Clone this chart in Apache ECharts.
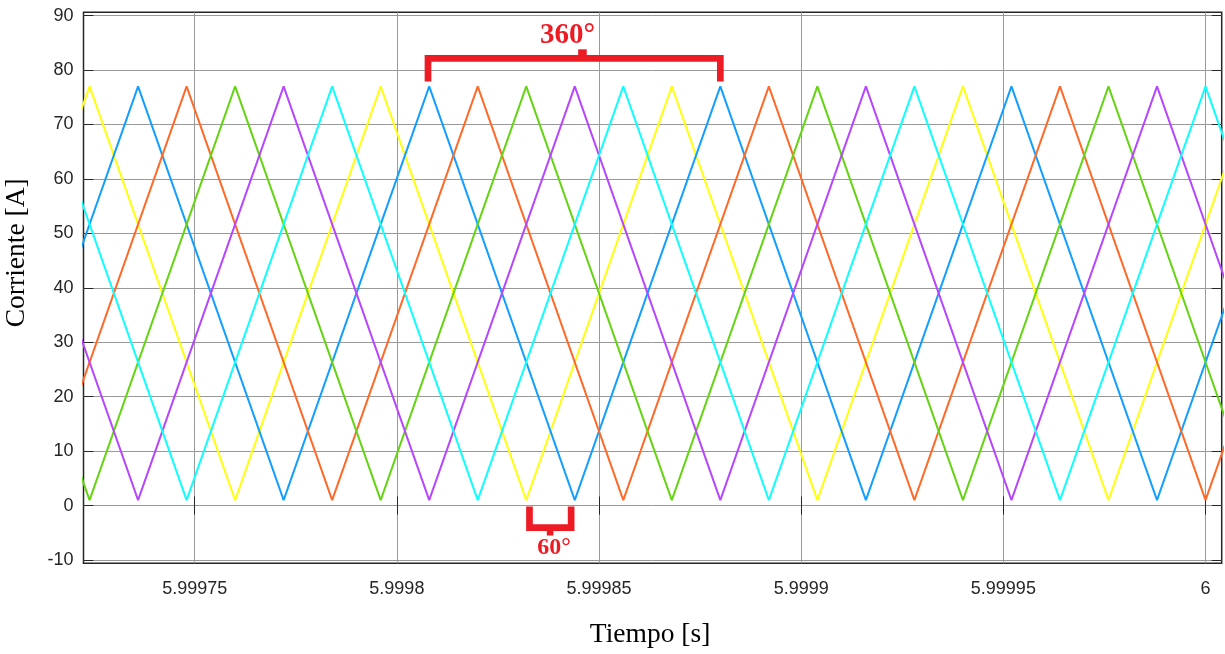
<!DOCTYPE html>
<html><head><meta charset="utf-8">
<script src="https://cdn.jsdelivr.net/npm/echarts@6/dist/echarts.min.js"></script>
<style>html,body{margin:0;padding:0;background:#fff}#c{width:1225px;height:654px}</style>
</head><body><div id="c"></div>
<script>
// Axis ticks
const xTicks = [5.99975, 5.9998, 5.99985, 5.9999, 5.99995, 6];
const xTickLabels = ['5.99975', '5.9998', '5.99985', '5.9999', '5.99995', '6'];
const yTicks = [-10, 0, 10, 20, 30, 40, 50, 60, 70, 80, 90];

// Six phase currents: vertices [time (s), current (A)]
const iYellow = [[5.999688,1],[5.999724,77],[5.999760,1],[5.999796,77],[5.999832,1],[5.999868,77],[5.999904,1],[5.999940,77],[5.999976,1],[6.000012,77]];
const iBlue   = [[5.999700,1],[5.999736,77],[5.999772,1],[5.999808,77],[5.999844,1],[5.999880,77],[5.999916,1],[5.999952,77],[5.999988,1],[6.000024,77]];
const iOrange = [[5.999712,1],[5.999748,77],[5.999784,1],[5.999820,77],[5.999856,1],[5.999892,77],[5.999928,1],[5.999964,77],[6.000000,1],[6.000036,77]];
const iGreen  = [[5.999688,77],[5.999724,1],[5.999760,77],[5.999796,1],[5.999832,77],[5.999868,1],[5.999904,77],[5.999940,1],[5.999976,77],[6.000012,1]];
const iPurple = [[5.999700,77],[5.999736,1],[5.999772,77],[5.999808,1],[5.999844,77],[5.999880,1],[5.999916,77],[5.999952,1],[5.999988,77],[6.000024,1]];
const iCyan   = [[5.999712,77],[5.999748,1],[5.999784,77],[5.999820,1],[5.999856,77],[5.999892,1],[5.999928,77],[5.999964,1],[6.000000,77],[6.000036,1]];

const seriesNames = ['Fase 1', 'Fase 2', 'Fase 3', 'Fase 4', 'Fase 5', 'Fase 6'];
const seriesData = [iYellow, iBlue, iOrange, iGreen, iPurple, iCyan];
const seriesColors = ['#FFFF11', '#139FFF', '#FF6929', '#64D413', '#B746FF', '#0FFFFF'];

// Annotation brackets (data coordinates)
const bracket360 = [[5.9998077,77.9],[5.9998077,82.15],[5.99988,82.15],[5.99988,77.9]];
const notch360   = [[5.9998459,82.15],[5.9998459,83.8]];
const bracket60  = [[5.9998328,-0.15],[5.9998328,-4.05],[5.9998431,-4.05],[5.9998431,-0.15]];
const notch60    = [[5.9998379,-4.05],[5.9998379,-5.5]];
const annotLabels = [[5.9998422,86.4,'360°',29],[5.9998389,-7.7,'60°',24]];

const X_MIN = 5.9997225, X_MAX = 6.000004;
const Y_MIN = -10.6, Y_MAX = 90.6;
const RED = '#ED1C24';
const INK = '#262626';

function fmtX(v) {
  const i = xTicks.findIndex(t => Math.abs(t - v) < 1e-9);
  return i >= 0 ? xTickLabels[i] : '';
}

const chart = echarts.init(document.getElementById('c'), null, {renderer: 'canvas'});

const series = seriesData.map((d, i) => ({
  name: seriesNames[i], type: 'line', data: d, symbol: 'none',
  lineStyle: {color: seriesColors[i], width: 2}, itemStyle: {color: seriesColors[i]},
  z: 3
}));

function bracketSeries(d, w) {
  return {type: 'line', data: d, symbol: 'none', silent: true, clip: false,
    lineStyle: {color: RED, width: w, cap: 'butt', join: 'miter'}, z: 10};
}
series.push(bracketSeries(bracket360, 6.7));
series.push(bracketSeries(notch360, 8.6));
series.push(bracketSeries(bracket60, 6.7));
series.push(bracketSeries(notch60, 6.6));
series.push({
  type: 'scatter', silent: true, clip: false, symbolSize: 1, z: 11,
  itemStyle: {color: 'rgba(0,0,0,0)', opacity: 1},
  data: annotLabels.map(a => ({value: [a[0], a[1]], label: {fontSize: a[3]}, name: a[2]})),
  label: {show: true, position: 'inside', formatter: p => p.name, opacity: 1,
    textBorderWidth: 0, color: RED, fontFamily: 'Liberation Serif', fontWeight: 'bold'}
});

chart.setOption({
  animation: false,
  backgroundColor: '#fff',
  grid: {left: 83.5, right: 3.3, top: 12.3, bottom: 90.7, show: true,
    outerBoundsMode: 'none', containLabel: false,
    borderColor: INK, borderWidth: 1.5, backgroundColor: 'transparent'},
  xAxis: [{
    type: 'value', min: X_MIN, max: X_MAX, position: 'bottom',
    axisLine: {show: false},
    axisTick: {show: true, inside: true, length: 9, customValues: xTicks, lineStyle: {color: INK, width: 1}},
    axisLabel: {show: true, customValues: xTicks, formatter: fmtX, fontSize: 18, color: INK,
      fontFamily: 'Liberation Sans', margin: 17, hideOverlap: false},
    splitLine: {show: true, lineStyle: {color: '#999999', width: 1}},
    name: 'Tiempo [s]', nameLocation: 'middle', nameGap: 57,
    nameTextStyle: {fontFamily: 'Liberation Serif', fontSize: 27.5, color: '#000', padding: [0, 5, 0, 0]}
  }, {
    type: 'value', min: X_MIN, max: X_MAX, position: 'top',
    axisLine: {show: false},
    axisTick: {show: true, inside: true, length: 9, customValues: xTicks, lineStyle: {color: INK, width: 1}},
    axisLabel: {show: false}, splitLine: {show: false}
  }],
  yAxis: [{
    type: 'value', min: Y_MIN, max: Y_MAX, position: 'left',
    axisLine: {show: false},
    axisTick: {show: true, inside: true, length: 10, customValues: yTicks, lineStyle: {color: INK, width: 1}},
    axisLabel: {show: true, customValues: yTicks, fontSize: 18, color: INK,
      fontFamily: 'Liberation Sans', margin: 10, hideOverlap: false},
    splitLine: {show: true, lineStyle: {color: '#999999', width: 1}},
    name: 'Corriente [A]', nameLocation: 'middle', nameGap: 53, nameRotate: 90,
    nameTextStyle: {fontFamily: 'Liberation Serif', fontSize: 27.5, color: '#000', padding: [0, 0, 0, 70]}
  }, {
    type: 'value', min: Y_MIN, max: Y_MAX, position: 'right',
    axisLine: {show: false},
    axisTick: {show: true, inside: true, length: 10, customValues: yTicks, lineStyle: {color: INK, width: 1}},
    axisLabel: {show: false}, splitLine: {show: false}
  }],
  series: series
});
</script></body></html>
